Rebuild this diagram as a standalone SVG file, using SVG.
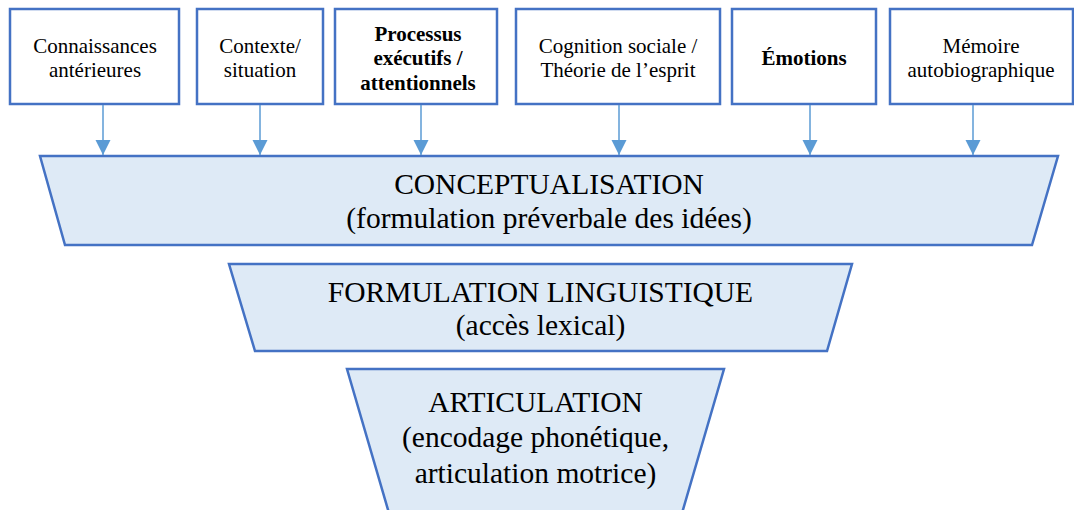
<svg xmlns="http://www.w3.org/2000/svg" width="1074" height="510" viewBox="0 0 1074 510">
  <defs>
    <style>
      .box { fill: #ffffff; stroke: #4472C4; stroke-width: 2.5; }
      .trap { fill: #DEEAF6; stroke: #4472C4; stroke-width: 2.5; stroke-linejoin: miter; }
      .t { font-family: 'Liberation Serif', 'DejaVu Serif', serif; font-size: 21px; fill: #000; text-anchor: middle; }
      .b { font-weight: bold; }
      .big { font-family: 'Liberation Serif', 'DejaVu Serif', serif; font-size: 29.5px; fill: #000; text-anchor: middle; }
      .conn { stroke: #5B9BD5; stroke-width: 1.5; fill: none; marker-end: url(#arrow); }
    </style>
    <marker id="arrow" markerUnits="userSpaceOnUse" markerWidth="16" markerHeight="16" refX="15" refY="7.5" orient="auto">
      <path d="M0,0 L15,7.5 L0,15 Z" fill="#5B9BD5"/>
    </marker>
  </defs>
  <rect width="1074" height="510" fill="#ffffff"/>

  <g id="node-connaissances">
    <rect class="box" x="10" y="9" width="169" height="95"/>
    <text class="t" x="95" y="53">Connaissances</text>
    <text class="t" x="95" y="77">antérieures</text>
  </g>
  <g id="node-contexte">
    <rect class="box" x="197" y="9" width="126" height="95"/>
    <text class="t" x="260" y="53">Contexte/</text>
    <text class="t" x="260" y="77">situation</text>
  </g>
  <g id="node-processus">
    <rect class="box" x="335" y="9" width="162" height="95"/>
    <text class="t b" x="418" y="41">Processus</text>
    <text class="t b" x="418" y="65">exécutifs /</text>
    <text class="t b" x="418" y="90">attentionnels</text>
  </g>
  <g id="node-cognition">
    <rect class="box" x="516" y="9" width="204" height="95"/>
    <text class="t" x="618" y="53">Cognition sociale /</text>
    <text class="t" x="618" y="77">Théorie de l’esprit</text>
  </g>
  <g id="node-emotions">
    <rect class="box" x="732" y="9" width="144" height="95"/>
    <text class="t b" x="804" y="65">Émotions</text>
  </g>
  <g id="node-memoire">
    <rect class="box" x="890" y="9" width="183" height="95"/>
    <text class="t" x="981" y="53">Mémoire</text>
    <text class="t" x="981" y="77">autobiographique</text>
  </g>

  <g id="node-conceptualisation">
    <polygon class="trap" points="40,156 1058,156 1032,245 65,245"/>
    <text class="big" x="549" y="194">CONCEPTUALISATION</text>
    <text class="big" x="549" y="228">(formulation préverbale des idées)</text>
  </g>
  <g id="node-formulation">
    <polygon class="trap" points="229,264 852,264 827,351 255,351"/>
    <text class="big" x="540.5" y="302">FORMULATION LINGUISTIQUE</text>
    <text class="big" x="540.5" y="335">(accès lexical)</text>
  </g>
  <g id="node-articulation">
    <polygon class="trap" points="347,369 724,369 680,520 391,520"/>
    <text class="big" x="535.5" y="412">ARTICULATION</text>
    <text class="big" x="535.5" y="447">(encodage phonétique,</text>
    <text class="big" x="535.5" y="483">articulation motrice)</text>
  </g>

  <g id="connectors">
    <line class="conn" x1="103" y1="105" x2="103" y2="155"/>
    <line class="conn" x1="260" y1="105" x2="260" y2="155"/>
    <line class="conn" x1="421" y1="105" x2="421" y2="155"/>
    <line class="conn" x1="619" y1="105" x2="619" y2="155"/>
    <line class="conn" x1="810" y1="105" x2="810" y2="155"/>
    <line class="conn" x1="973" y1="105" x2="973" y2="155"/>
  </g>
</svg>
